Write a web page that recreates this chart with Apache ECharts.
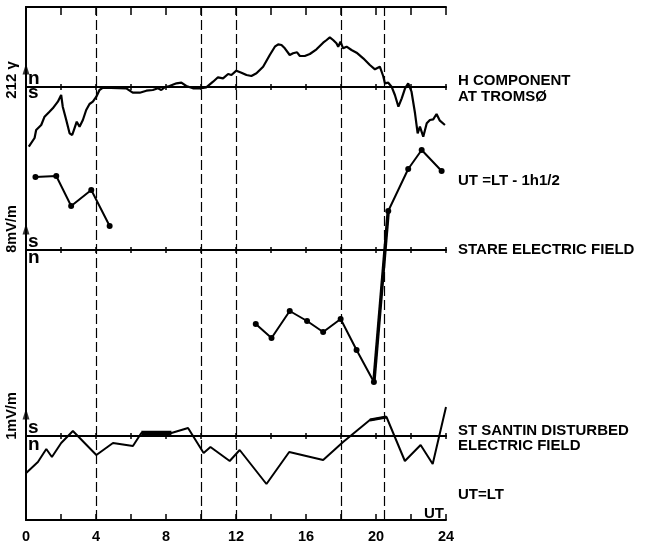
<!DOCTYPE html>
<html><head><meta charset="utf-8">
<script src="https://cdn.jsdelivr.net/npm/echarts@6/dist/echarts.min.js"></script>
<style>html,body{margin:0;padding:0;background:#fff}#c{width:646px;height:545px}</style>
</head><body><div id="c"></div>
<script>
// ---- data (hours UT, values relative to each panel's baseline) ----
const xTicks = [0, 4, 8, 12, 16, 20, 24];
const dashedHours = [4, 10, 12, 18, 20.45];

const hHours = [0.16,0.49,0.58,0.87,1.06,1.34,1.53,1.63,1.82,2.01,2.10,2.30,2.49,2.64,2.77,2.90,3.06,3.25,3.44,3.63,3.82,4.02,4.20,4.40,5.73,6.10,6.50,6.88,7.25,7.54,7.73,7.92,8.20,8.60,8.88,9.16,9.54,9.93,10.30,10.69,10.97,11.07,11.26,11.55,11.74,12.02,12.31,12.60,12.88,13.17,13.55,13.93,14.22,14.41,14.60,14.79,15.07,15.26,15.49,15.65,15.93,16.22,16.60,16.98,17.18,17.36,17.55,17.74,17.84,17.97,18.12,18.32,18.60,18.89,19.27,19.65,19.94,20.22,20.41,20.51,20.70,20.89,21.08,21.28,21.47,21.66,21.84,22.03,22.23,22.38,22.51,22.70,22.90,23.08,23.27,23.46,23.65,23.94];
const hValues = [-59.7,-51,-43,-38,-29.7,-24.7,-21.3,-23,-14.7,-8,-19.7,-33,-46.3,-48,-41.3,-34.7,-39.7,-33,-23,-17,-14.7,-9.7,-3,-0.7,-1.3,-5.7,-5.7,-3.7,-3,-1.3,-3,-0.3,1,3.7,4.3,1,-1.3,-1.3,-0.3,5.3,9.7,11,8.7,13,12,16.3,14.3,12,11,13.7,20.3,32,40.3,42.7,42,38.7,32,33.7,34.7,31,31,33,37.7,44.3,47,49.7,47,43.7,40.3,45.3,38.7,40.3,37,34.3,28.7,22,17.7,20.3,11,3.7,4.3,0.3,-8,-19.7,-11.3,-1.3,3.7,-4.7,-26.3,-46.3,-39.7,-49.7,-36.3,-33,-32.3,-27,-33.7,-38];

const stareHours1 = [0.54,1.73,2.58,3.73,4.78];
const stareValues1 = [73,74,44,60,24];
const stareHours2 = [13.13,14.03,15.07,16.06,16.98,17.98,18.89,19.88,20.70,21.84,22.61,23.75];
const stareValues2 = [-74,-88,-61,-71,-82,-69,-100,-132,39,81,100,79];

const santinHours = [0.01,0.68,1.16,1.48,2.01,2.68,4.02,4.97,6.11,6.59,8.31,9.26,10.15,10.54,11.64,12.21,13.74,15.04,16.98,18.12,19.65,20.60,21.65,22.55,23.24,24.0];
const santinValues = [-37,-26,-13,-21,-7,5,-19,-7,-10,3,3,8,-17,-11,-25,-14,-48,-16,-24,-6,16,19,-25,-9,-28,29];

const scaleArrowValue = [18, 21, 22];

// ---- helpers ----
const zip = (a, b) => a.map((x, i) => [x, b[i]]);
const FONT = '"Liberation Sans", Arial, Helvetica, sans-serif';
const BLACK = '#000';
const gridBox = {left: 26, right: 200, top: 7, bottom: 25, outerBoundsMode: 'none', containLabel: false};

function baseX(gridIndex, position, yIdx) {
  return {
    type: 'value', gridIndex, position, min: 0, max: 24, interval: 2,
    axisLine: {show: true, onZero: true, onZeroAxisIndex: yIdx, lineStyle: {color: BLACK, width: 2}},
    axisTick: {show: true, inside: false, length: 3, lineStyle: {color: BLACK, width: 1.5}},
    axisLabel: {show: false}, splitLine: {show: false}
  };
}

const chart = echarts.init(document.getElementById('c'), null, {renderer: 'canvas'});
const lineBase = {type: 'line', symbol: 'none', silent: true, animation: false,
  lineStyle: {color: BLACK, width: 2}, itemStyle: {color: BLACK}};

const option = {
  backgroundColor: '#fff',
  animation: false,
  grid: [gridBox, gridBox, gridBox, gridBox].map(g => Object.assign({}, g)),
  xAxis: [
    {type: 'value', gridIndex: 0, position: 'bottom', min: 0, max: 24, interval: 2,
     axisLine: {show: true, onZero: false, lineStyle: {color: BLACK, width: 2}},
     axisTick: {show: true, inside: true, length: 6, lineStyle: {color: BLACK, width: 1.5}},
     axisLabel: {show: true, margin: 9, color: BLACK, fontFamily: FONT, fontWeight: 'bold', fontSize: 14.5,
       formatter: v => xTicks.indexOf(v) >= 0 ? String(v) : ''},
     splitLine: {show: false}},
    {type: 'value', gridIndex: 0, position: 'top', min: 0, max: 24, interval: 2,
     axisLine: {show: true, onZero: false, lineStyle: {color: BLACK, width: 2}},
     axisTick: {show: true, inside: true, length: 8, lineStyle: {color: BLACK, width: 1.5}},
     axisLabel: {show: false}, splitLine: {show: false}},
    baseX(1, 'bottom', 2), baseX(1, 'top', 2),
    baseX(2, 'bottom', 3), baseX(2, 'top', 3),
    baseX(3, 'bottom', 4), baseX(3, 'top', 4)
  ],
  yAxis: [
    {type: 'value', gridIndex: 0, position: 'left', min: 0, max: 1,
     axisLine: {show: true, lineStyle: {color: BLACK, width: 2}}, axisTick: {show: false},
     axisLabel: {show: false}, splitLine: {show: false}},
    {type: 'value', gridIndex: 0, position: 'right', min: 0, max: 1,
     axisLine: {show: true, lineStyle: {color: BLACK, width: 1.5}}, axisTick: {show: false},
     axisLabel: {show: false}, splitLine: {show: false}},
    {type: 'value', gridIndex: 1, min: -433, max: 80, show: false},
    {type: 'value', gridIndex: 2, min: -270, max: 243, show: false},
    {type: 'value', gridIndex: 3, min: -84, max: 429, show: false}
  ],
  series: [
    Object.assign({}, lineBase, {name: 'H', xAxisIndex: 2, yAxisIndex: 2, data: zip(hHours, hValues),
      lineStyle: {color: BLACK, width: 2.2},
      markLine: {silent: true, symbol: ['none', 'none'], label: {show: false}, animation: false,
        lineStyle: {color: BLACK, width: 1.2, type: [10, 4]},
        emphasis: {disabled: true},
        data: dashedHours.map(h => ({xAxis: h}))}}),
    Object.assign({}, lineBase, {name: 'stare1', xAxisIndex: 4, yAxisIndex: 3, data: zip(stareHours1, stareValues1),
      symbol: 'circle', symbolSize: 6, showSymbol: true}),
    Object.assign({}, lineBase, {name: 'stare2', xAxisIndex: 4, yAxisIndex: 3, data: zip(stareHours2, stareValues2),
      symbol: 'circle', symbolSize: 6, showSymbol: true}),
    Object.assign({}, lineBase, {name: 'stareThick', xAxisIndex: 4, yAxisIndex: 3,
      data: zip(stareHours2, stareValues2).slice(7, 9), lineStyle: {color: BLACK, width: 3.4}}),
    Object.assign({}, lineBase, {name: 'santin', xAxisIndex: 6, yAxisIndex: 4, data: zip(santinHours, santinValues)}),
    Object.assign({}, lineBase, {name: 'santinThick1', xAxisIndex: 6, yAxisIndex: 4,
      data: zip(santinHours, santinValues).slice(9, 11), lineStyle: {color: BLACK, width: 4.5}}),
    Object.assign({}, lineBase, {name: 'santinThick2', xAxisIndex: 6, yAxisIndex: 4,
      data: zip(santinHours, santinValues).slice(20, 22), lineStyle: {color: BLACK, width: 3}}),
    {type: 'scatter', xAxisIndex: 2, yAxisIndex: 2, data: [[0, scaleArrowValue[0]]], symbol: 'triangle',
     symbolSize: [7, 11], itemStyle: {color: BLACK}, clip: false, silent: true},
    {type: 'scatter', xAxisIndex: 4, yAxisIndex: 3, data: [[0, scaleArrowValue[1]]], symbol: 'triangle',
     symbolSize: [7, 11], itemStyle: {color: BLACK}, clip: false, silent: true},
    {type: 'scatter', xAxisIndex: 6, yAxisIndex: 4, data: [[0, scaleArrowValue[2]]], symbol: 'triangle',
     symbolSize: [7, 11], itemStyle: {color: BLACK}, clip: false, silent: true}
  ],
  graphic: []
};

function txt(text, x, y, size, opts) {
  return Object.assign({type: 'text', silent: true, x, y, style: {text, fill: BLACK,
    font: 'bold ' + size + 'px ' + FONT, align: 'left', verticalAlign: 'middle'}}, opts || {});
}
function rtxt(text, x, y, size) {
  return {type: 'text', silent: true, x, y, rotation: Math.PI / 2,
    style: {text, fill: BLACK, font: 'bold ' + size + 'px ' + FONT, align: 'center', verticalAlign: 'middle'}};
}
option.graphic = [
  txt('H COMPONENT', 458, 80.5, 15),
  txt('AT TROMSØ', 458, 97, 15),
  txt('UT =LT - 1h1/2', 458, 180.5, 15),
  txt('STARE ELECTRIC FIELD', 458, 250, 15),
  txt('ST SANTIN DISTURBED', 458, 430.5, 15),
  txt('ELECTRIC FIELD', 458, 445.7, 15),
  txt('UT=LT', 458, 494.5, 15),
  txt('UT', 424, 513.5, 15),
  rtxt('212 γ', 12, 80, 15),
  rtxt('8mV/m', 12, 229, 14.5),
  rtxt('1mV/m', 12, 416, 14.5),
  txt('n', 28, 78.8, 19),
  txt('s', 28, 92.3, 19),
  txt('s', 28, 241.8, 19),
  txt('n', 28, 257.3, 19),
  txt('s', 28, 427.3, 19),
  txt('n', 28, 444.3, 19)
];

chart.setOption(option);
</script>
</body></html>
